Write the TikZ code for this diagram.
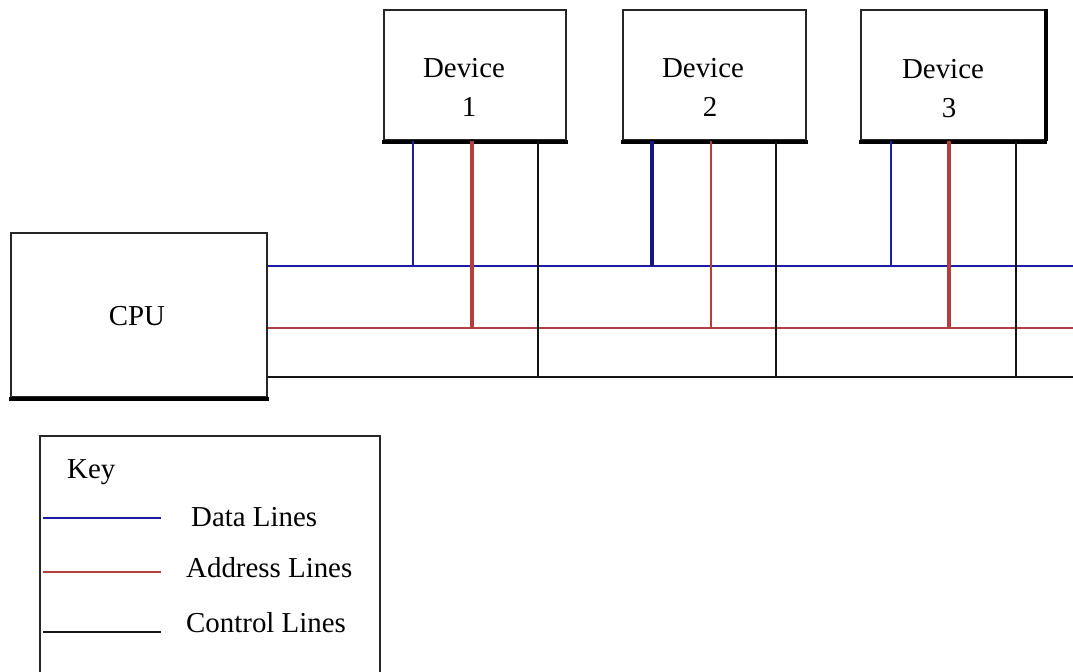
\documentclass[tikz,border=0pt]{standalone}
\usepackage{fontspec}
\setmainfont{Liberation Serif}
\definecolor{databus}{RGB}{28,28,165}
\definecolor{addrbus}{RGB}{178,62,62}
\definecolor{ctrlbus}{RGB}{20,20,20}
\tikzset{
  unit/.style={draw=black!85, line width=1.8bp, fill=white, inner sep=0pt},
  lbl/.style={font=\fontsize{29}{35}\selectfont, inner sep=0pt},
  dataline/.style={draw=databus, line width=1.8bp},
  addrline/.style={draw=addrbus, line width=1.8bp},
  ctrlline/.style={draw=ctrlbus, line width=1.5bp},
  heavy/.style={line width=3.8bp},
  ledge/.style={line width=4.5bp, draw=black, line cap=butt}
}
\begin{document}
\begin{tikzpicture}[x=1bp,y=-1bp]
\useasboundingbox (0,0) rectangle (1073,672);
\clip (0,0) rectangle (1073,672);
\fill[white] (0,0) rectangle (1073,672);

% processor and the three devices
\node[unit, minimum width=256bp, minimum height=164bp] (cpu) at (139,315) {};
\node[unit, minimum width=182bp, minimum height=130bp] (dev1) at (475,75) {};
\node[unit, minimum width=183bp, minimum height=130bp] (dev2) at (714.5,75) {};
\node[unit, minimum width=184bp, minimum height=130bp] (dev3) at (953,75) {};

% heavier lower edges
\foreach \b in {cpu,dev1,dev2,dev3}
  \draw[ledge] ([xshift=-0.9bp,yshift=-1bp]\b.south west) -- ([xshift=0.9bp,yshift=-1bp]\b.south east);
\draw[line width=3.5bp] (dev3.north east) -- (dev3.south east);

% labels
\node[lbl, anchor=base] (cputxt) at (137,325) {CPU};
\node[lbl, anchor=base] (d1a) at (464,78) {Device};
\node[lbl, anchor=base] (d1b) at (469,117) {1};
\node[lbl, anchor=base] (d2a) at (703,78) {Device};
\node[lbl, anchor=base] (d2b) at (710,117) {2};
\node[lbl, anchor=base] (d3a) at (943,79) {Device};
\node[lbl, anchor=base] (d3b) at (949,118) {3};

% bus ends at the right margin
\coordinate (dataend) at (1073,266);
\coordinate (addrend) at (1073,328);
\coordinate (ctrlend) at (1073,377);

% taps on the buses
\coordinate (t1d) at (413,266);
\coordinate (t1a) at (472,328);
\coordinate (t1c) at (538,377);
\coordinate (t2d) at (652,266);
\coordinate (t2a) at (711,328);
\coordinate (t2c) at (776,377);
\coordinate (t3d) at (891,266);
\coordinate (t3a) at (949,328);
\coordinate (t3c) at (1016,377);

% buses
\draw[dataline] (cpu.east |- dataend) -- (dataend);
\draw[addrline] (cpu.east |- addrend) -- (addrend);
\draw[ctrlline] (cpu.east |- ctrlend) -- (ctrlend);

% device drops
\draw[dataline] (t1d |- dev1.south) -- (t1d);
\draw[addrline, heavy] (t1a |- dev1.south) -- (t1a);
\draw[ctrlline] (t1c |- dev1.south) -- (t1c);

\draw[dataline, heavy, draw=databus!80!black] (t2d |- dev2.south) -- (t2d);
\draw[addrline] (t2a |- dev2.south) -- (t2a);
\draw[ctrlline] (t2c |- dev2.south) -- (t2c);

\draw[dataline] (t3d |- dev3.south) -- (t3d);
\draw[addrline, heavy] (t3a |- dev3.south) -- (t3a);
\draw[ctrlline] (t3c |- dev3.south) -- (t3c);

% key
\node[unit, minimum width=340bp, minimum height=300bp, anchor=north west] (key) at (39,435) {};
\node[lbl, anchor=base west] (keytxt) at (67,478) {Key};

\coordinate (kd0) at (43,518);  \coordinate (kd1) at (161,518);
\coordinate (ka0) at (43,572);  \coordinate (ka1) at (161,572);
\coordinate (kc0) at (43,632);  \coordinate (kc1) at (161,632);
\draw[dataline] (kd0) -- (kd1);
\draw[addrline] (ka0) -- (ka1);
\draw[ctrlline] (kc0) -- (kc1);
\node[lbl, anchor=base west] (kdt) at (191,526) {Data Lines};
\node[lbl, anchor=base west] (kat) at (186,577) {Address Lines};
\node[lbl, anchor=base west] (kct) at (186,632) {Control Lines};
\end{tikzpicture}
\end{document}
